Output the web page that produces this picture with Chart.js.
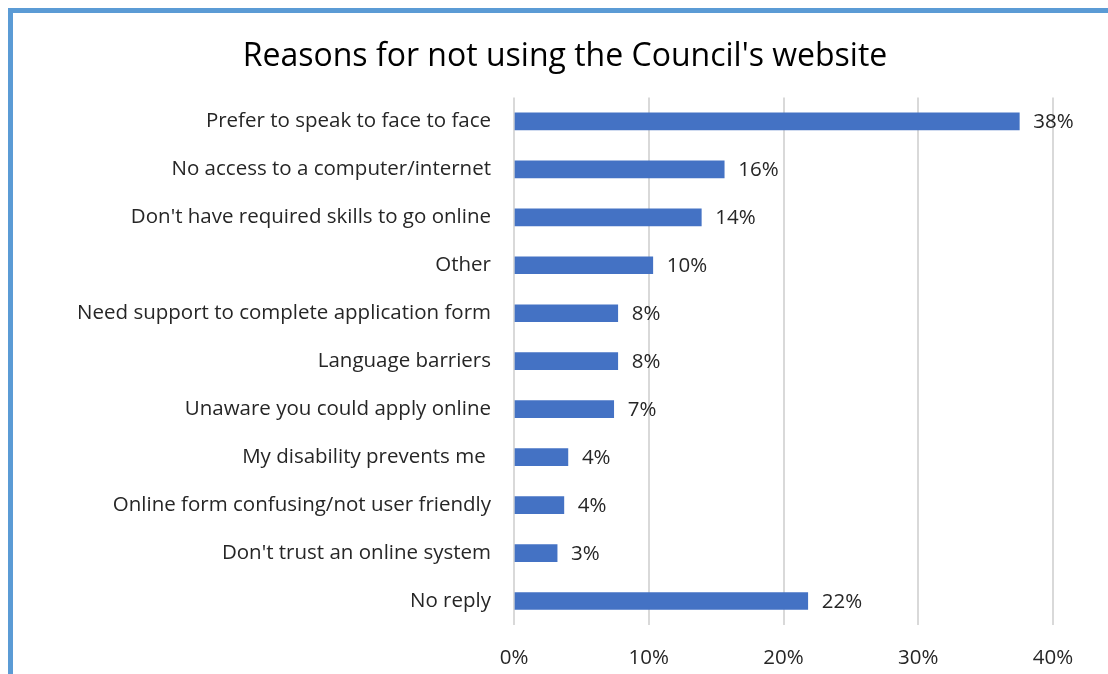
<!DOCTYPE html>
<html>
<head>
<meta charset="utf-8">
<script src="https://cdn.jsdelivr.net/npm/chart.js@4.4.1/dist/chart.umd.min.js"></script>
<style>
  html, body { margin: 0; padding: 0; background: #fff; overflow: hidden; }
  #frame {
    position: absolute; left: 8px; top: 8px; width: 1200px; height: 800px;
    border-left: 5px solid #5b9bd5; border-top: 5px solid #5b9bd5;
    pointer-events: none; z-index: 2;
  }
  #wrap { position: absolute; left: 13px; top: 13px; width: 1104px; height: 661px; }
</style>
</head>
<body>
<div id="frame"></div>
<div id="wrap"><canvas id="reasonsChart"></canvas></div>
<script>
// survey answers, share of respondents (%)
const reasons = [
  "Prefer to speak to face to face",
  "No access to a computer/internet",
  "Don't have required skills to go online",
  "Other",
  "Need support to complete application form",
  "Language barriers",
  "Unaware you could apply online",
  "My disability prevents me ",
  "Online form confusing/not user friendly",
  "Don't trust an online system",
  "No reply"
];
const shares = [37.5, 15.6, 13.9, 10.3, 7.7, 7.7, 7.4, 4.0, 3.7, 3.2, 21.8];
const xTicks = [0, 10, 20, 30, 40];

const FONT = "'Open Sans', Lato, sans-serif";
const TEXT = "#262626";

// value labels to the right of each bar
const barLabels = {
  id: "barLabels",
  afterDatasetsDraw(chart) {
    const ctx = chart.ctx;
    const meta = chart.getDatasetMeta(0);
    ctx.save();
    ctx.font = "20.5px " + FONT;
    ctx.fillStyle = TEXT;
    ctx.textBaseline = "middle";
    ctx.textAlign = "left";
    meta.data.forEach((bar, i) => {
      ctx.fillText(Math.round(shares[i]) + "%", bar.x + 14, bar.y + 1);
    });
    ctx.restore();
  }
};

const chart = new Chart(document.getElementById("reasonsChart"), {
  type: "bar",
  data: {
    labels: reasons,
    datasets: [{
      data: shares,
      backgroundColor: "#4472c4",
      borderWidth: 0,
      barThickness: 17
    }]
  },
  plugins: [barLabels],
  options: {
    indexAxis: "y",
    responsive: true,
    maintainAspectRatio: false,
    animation: false,
    // equal side padding keeps the title centred on the frame
    layout: { padding: { left: 64, right: 64, top: 0, bottom: 0 } },
    plugins: {
      legend: { display: false },
      tooltip: { enabled: false },
      title: {
        display: true,
        text: "Reasons for not using the Council's website",
        color: "#000",
        font: { family: FONT, size: 32, weight: "normal" },
        padding: { top: 25, bottom: 21 }
      }
    },
    scales: {
      x: {
        min: 0,
        max: 40,
        afterBuildTicks(scale) {
          scale.ticks = xTicks.map(v => ({ value: v }));
        },
        afterFit(scale) { scale.height = 49; },
        grid: { color: "#d9d9d9", lineWidth: 2, drawTicks: false },
        border: { display: false },
        ticks: {
          color: TEXT,
          padding: 21,
          font: { family: FONT, size: 20.5 },
          callback: v => v + "%"
        }
      },
      y: {
        afterFit(scale) { scale.width = 437; },
        grid: { display: false, drawTicks: false },
        border: { display: false },
        ticks: {
          color: TEXT,
          padding: 23,
          font: { family: FONT, size: 20.5 }
        }
      }
    }
  }
});
</script>
</body>
</html>
